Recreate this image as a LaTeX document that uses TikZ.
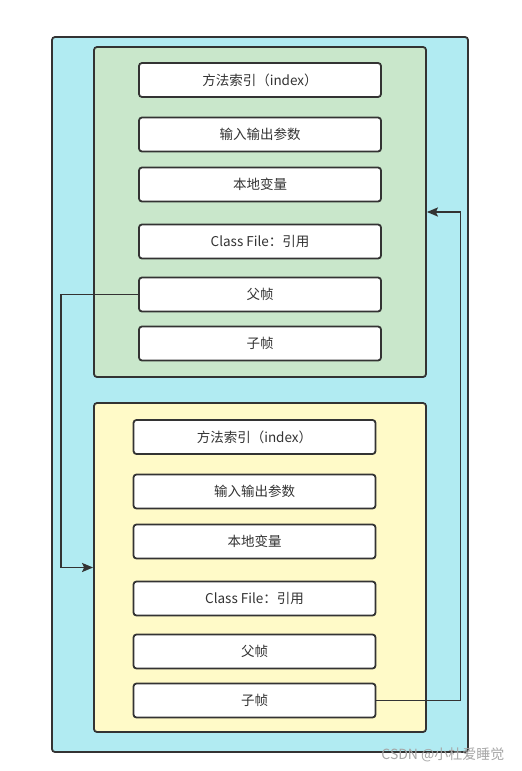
\documentclass[tikz,border=0pt]{standalone}
\usepackage{fontspec}
\setmainfont{Noto Sans CJK SC}
\usetikzlibrary{arrows.meta}
\definecolor{outerfill}{RGB}{177,235,242}
\definecolor{greenfill}{RGB}{201,231,203}
\definecolor{yellowfill}{RGB}{255,250,200}
\definecolor{edgegray}{RGB}{51,51,51}
\begin{document}
\begin{tikzpicture}[x=1pt,y=-1pt,
  frame/.style={draw=edgegray, line width=1.8pt, rounded corners=3pt, inner sep=0pt},
  slot/.style={draw=edgegray, line width=1.8pt, rounded corners=3pt, fill=white, minimum width=242pt, minimum height=34pt, inner sep=0pt, font=\fontsize{13.5}{15}\selectfont, text=edgegray},
  link/.style={draw=edgegray, line width=1.8pt, -{Stealth[length=11pt,width=9pt,inset=2pt]}}]
\useasboundingbox (0,0) rectangle (522,771);
\node[frame, fill=outerfill, minimum width=416pt, minimum height=715pt] (outer) at (260,394.5){};
\node[frame, fill=greenfill, minimum width=332pt, minimum height=330pt] (frame1) at (260,212){};
\node[frame, fill=yellowfill, minimum width=332pt, minimum height=329pt] (frame2) at (260,567.5){};

\node[slot] (ta) at (260,80){方法索引（index）};
\node[slot] (tb) at (260,134.5){输入输出参数};
\node[slot] (tc) at (260,184.5){本地变量};
\node[slot] (td) at (260,241.5){Class File：引用};
\node[slot] (te) at (260,294.5){父帧};
\node[slot] (tf) at (260,343.5){子帧};

\node[slot] (ba) at (254.5,437){方法索引（index）};
\node[slot] (bb) at (254.5,491.5){输入输出参数};
\node[slot] (bc) at (254.5,541.5){本地变量};
\node[slot] (bd) at (254.5,598.5){Class File：引用};
\node[slot] (be) at (254.5,651.5){父帧};
\node[slot] (bf) at (254.5,700.5){子帧};

\draw[link](te.west) -- ++(-77,0) |- (frame2.west);
\draw[link](bf.east) -- ++(84,0) |- (frame1.east);

\node[text=gray!70, font=\fontsize{14}{16}\selectfont, anchor=east] (mark) at (508,755){CSDN @小杜爱睡觉};

\end{tikzpicture}
\end{document}
